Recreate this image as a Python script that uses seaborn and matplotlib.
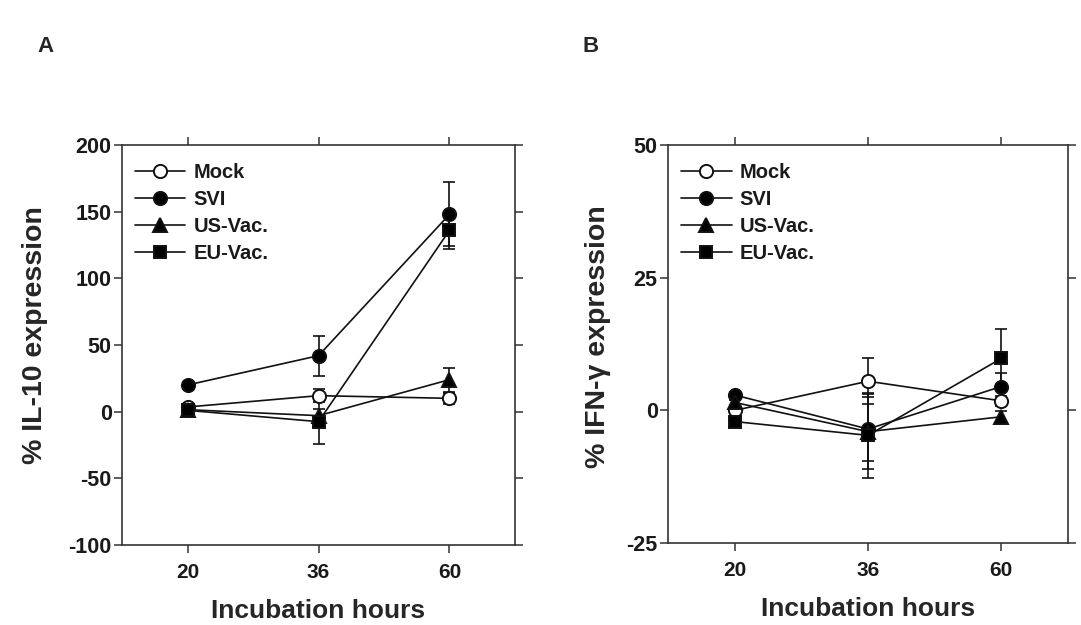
import matplotlib
matplotlib.use("Agg")
import matplotlib.pyplot as plt
import seaborn as sns
import numpy as np
import pandas as pd

hours = ["20", "36", "60"]
series = ["Mock", "SVI", "US-Vac.", "EU-Vac."]

il10_mock = [3.5, 12, 10]
il10_svi = [20, 42, 148]
il10_us = [1.5, -3, 24]
il10_eu = [1, -7.5, 136]
il10_mock_err = [2, 5, 4]
il10_svi_err = [2, 15, 24]
il10_us_err = [2, 5, 9]
il10_eu_err = [2, 17, 14]

ifn_mock = [0, 5.5, 1.8]
ifn_svi = [2.9, -3.5, 4.5]
ifn_us = [1.5, -4, -1.2]
ifn_eu = [-2.1, -4.7, 9.8]
ifn_mock_err = [0.5, 4.3, 1]
ifn_svi_err = [0.5, 6, 2.5]
ifn_us_err = [0.5, 7, 1]
ifn_eu_err = [0.5, 8, 5.5]

sns.set_theme(style="white")
plt.rcParams['font.family'] = ['Liberation Sans', 'DejaVu Sans']
plt.rcParams['font.weight'] = 'bold'

fig = plt.figure(figsize=(10.81, 6.25), dpi=100)
axA = fig.add_axes([0.1129, 0.128, 0.3635, 0.640])
axB = fig.add_axes([0.618, 0.131, 0.370, 0.637])

markers = {"Mock": "o", "SVI": "o", "US-Vac.": "^", "EU-Vac.": "s"}
faces = {"Mock": "white", "SVI": "black", "US-Vac.": "black", "EU-Vac.": "black"}
msizes = {"Mock": 9.5, "SVI": 9.5, "US-Vac.": 9.5, "EU-Vac.": 9}


def draw(ax, vals, errs, ylim, yticks, ylabel, ylab_xy):
    xpos = np.arange(len(hours))
    for name, v, e in zip(series, vals, errs):
        df = pd.DataFrame({"x": xpos, "y": v})
        ax.errorbar(xpos, v, yerr=e, fmt="none", ecolor="#111111",
                    elinewidth=1.2, capsize=4.5, capthick=1.2, zorder=2)
        sns.lineplot(data=df, x="x", y="y", ax=ax, color="#111111", lw=1.2,
                     marker=markers[name], markersize=msizes[name],
                     markerfacecolor=faces[name], markeredgecolor="#111111",
                     markeredgewidth=1.4, label=name, zorder=3)
    ax.set_xlim(-0.5, 2.5)
    ax.set_xticks(xpos)
    ax.set_xticklabels(hours)
    ax.set_ylim(*ylim)
    ax.set_yticks(yticks)
    ax.set_yticklabels([str(t) for t in yticks])
    ax.set_xlabel("Incubation hours", fontsize=19, fontweight="bold", labelpad=12)
    ax.set_ylabel(ylabel, fontsize=20.5, fontweight="bold")
    ax.yaxis.set_label_coords(*ylab_xy)
    for s in ax.spines.values():
        s.set_visible(True)
        s.set_color("#333333")
        s.set_linewidth(1.2)
    ax.tick_params(axis="both", which="major", direction="out", length=6,
                   width=1.1, color="#333333", labelsize=15.5,
                   top=True, right=True, bottom=True, left=True,
                   labeltop=False, labelright=False, pad=1.5)
    ax.tick_params(axis="x", pad=7, labelsize=15)
    for lbl in ax.get_xticklabels() + ax.get_yticklabels():
        lbl.set_fontweight("bold")
        lbl.set_color("#1a1a1a")
    leg = ax.legend(loc="upper left", frameon=False, fontsize=14.5,
                    handlelength=2.5, handletextpad=0.4, labelspacing=0.4,
                    borderaxespad=0.0, borderpad=0.0,
                    bbox_to_anchor=(0.033, 0.955))
    for t in leg.get_texts():
        t.set_fontweight("bold")
        t.set_color("#1a1a1a")
    ax.grid(False)


draw(axA, [il10_mock, il10_svi, il10_us, il10_eu],
     [il10_mock_err, il10_svi_err, il10_us_err, il10_eu_err],
     (-100, 200), [-100, -50, 0, 50, 100, 150, 200], "% IL-10 expression",
     (-0.188, 0.525))
draw(axB, [ifn_mock, ifn_svi, ifn_us, ifn_eu],
     [ifn_mock_err, ifn_svi_err, ifn_us_err, ifn_eu_err],
     (-25, 50), [-25, 0, 25, 50], "% IFN-\u03b3 expression",
     (-0.1425, 0.518))

fig.text(37 / 1081, 1 - 46 / 625, "A", fontsize=16, fontweight="bold", ha="left", va="center")
fig.text(583 / 1081, 1 - 46 / 625, "B", fontsize=16, fontweight="bold", ha="left", va="center")

fig.savefig("out.png", dpi=100, facecolor="white")
